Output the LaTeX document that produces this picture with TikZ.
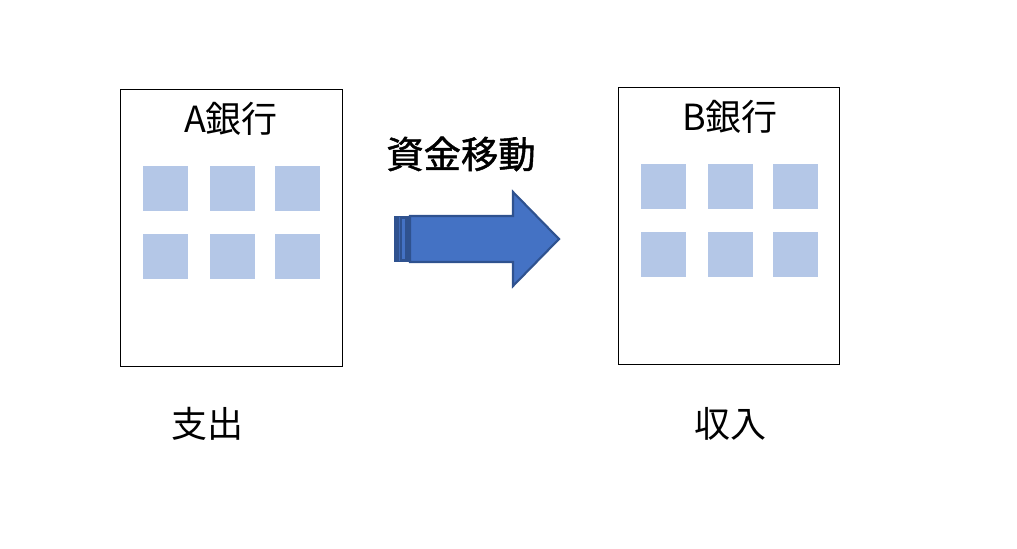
\documentclass[tikz,border=0pt]{standalone}
\usepackage{fontspec}
\setmainfont{Noto Sans CJK JP}
\newfontfamily\movefont[FakeBold=1.2]{Noto Sans CJK JP}
\definecolor{winblue}{HTML}{B4C7E7}
\definecolor{arrowblue}{HTML}{4472C4}
\definecolor{arrowedge}{HTML}{2F528F}
\tikzset{
  banktext/.style={font=\fontsize{27pt}{31pt}\selectfont, inner sep=0pt},
  movetext/.style={font=\fontsize{28pt}{32pt}\movefont, inner sep=0pt},
  window/.style={fill=winblue},
  blockarrow/.style={fill=arrowblue, draw=arrowedge, line width=1.6pt}
}
\begin{document}
\begin{tikzpicture}[x=0.75pt, y=-0.75pt, line width=0.75pt]

\useasboundingbox (0,0) rectangle (1017,549);

% banks
\draw (120,90) rectangle (342,366);
\draw (618,88) rectangle (839,364);
\foreach \x in {143,210,275}
  \foreach \y in {166,234}
    \fill [window] (\x,\y) rectangle ++(45,45);
\foreach \x in {641,708,773}
  \foreach \y in {164,232}
    \fill [window] (\x,\y) rectangle ++(45,45);
\node [banktext] (bankA) at (231,119) {A銀行};
\node [banktext] (bankB) at (730,117) {B銀行};

% arrow
\node [movetext] (move) at (461,154) {資金移動};
\fill [arrowedge] (394,216) rectangle (410,262);
\draw [arrowblue!70!arrowedge] (399.5,217) -- (399.5,261);
\fill [arrowblue] (402,219) rectangle (405,259);
\draw [blockarrow] (410,216) -- (513,216) -- (513,192) -- (559,239)
  -- (513,286) -- (513,262) -- (410,262) -- cycle;

\node [banktext] (pay) at (207,424) {支出};
\node [banktext] (income) at (730,424) {収入};

\end{tikzpicture}
\end{document}
